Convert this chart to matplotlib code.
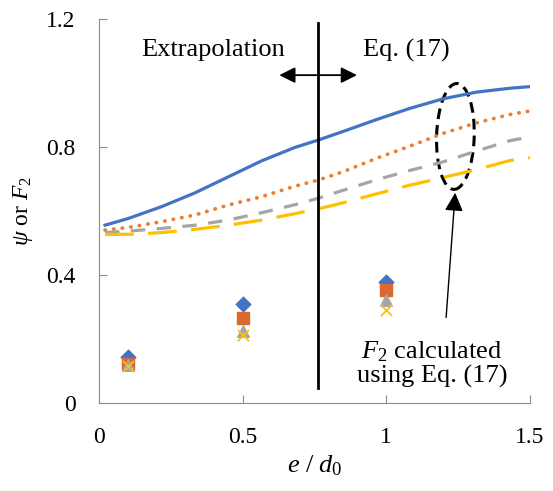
import matplotlib.pyplot as plt
from matplotlib.patches import Ellipse

plt.rcParams['font.family'] = ['Liberation Serif', 'DejaVu Serif']
plt.rcParams['mathtext.fontset'] = 'custom'
plt.rcParams['mathtext.it'] = 'Liberation Serif:italic'
plt.rcParams['mathtext.rm'] = 'Liberation Serif'

# curves
e_a = [0.021, 0.102, 0.218, 0.334, 0.45, 0.566, 0.682, 0.763, 0.850, 0.966, 1.082, 1.198, 1.315, 1.43, 1.5]
psi_1 = [0.556, 0.577, 0.614, 0.657, 0.707, 0.757, 0.799, 0.822, 0.849, 0.886, 0.921, 0.951, 0.972, 0.984, 0.989]
psi_2 = [0.541, 0.549, 0.567, 0.588, 0.619, 0.645, 0.678, 0.697, 0.723, 0.765, 0.803, 0.843, 0.876, 0.902, 0.913]

e_b = [0.021, 0.124, 0.218, 0.334, 0.45, 0.566, 0.682, 0.763, 0.850, 0.966, 1.082, 1.198, 1.315, 1.43, 1.5]
psi_3 = [0.533, 0.539, 0.546, 0.556, 0.572, 0.595, 0.620, 0.640, 0.665, 0.698, 0.727, 0.754, 0.788, 0.820, 0.832]
psi_4 = [0.527, 0.528, 0.533, 0.543, 0.556, 0.572, 0.592, 0.607, 0.626, 0.654, 0.681, 0.705, 0.730, 0.758, 0.767]

# F2 points
e_pts = [0.1, 0.5, 1.0]
f2_1 = [0.144, 0.309, 0.378]
f2_2 = [0.122, 0.265, 0.353]
f2_3 = [0.120, 0.225, 0.322]
f2_4 = [0.115, 0.214, 0.290]

blue = '#4472C4'
orange = '#ED7D31'
gray = '#A5A5A5'
yellow = '#FFC000'

fig = plt.figure(figsize=(5.53, 4.91), dpi=100)
ax = fig.add_axes([0.179, 0.179, 0.779, 0.782])

ax.plot(e_a, psi_1, color=blue, lw=2.3, ls='-')
ax.plot(e_a, psi_2, color=orange, lw=2.7, ls=(0, (0.1, 2.2)), dash_capstyle='round')
ax.plot(e_b, psi_3, color=gray, lw=2.3, ls=(0, (4.5, 3.6)))
ax.plot(e_b, psi_4, color=yellow, lw=2.3, ls=(0, (9, 4.5)))

ax.scatter(e_pts, f2_1, marker='D', s=55, color=blue, zorder=3)
ax.scatter(e_pts, f2_2, marker='s', s=70, color='#D9692E', zorder=4)
ax.scatter(e_pts, f2_3, marker='^', s=70, color=gray, zorder=5)
ax.scatter(e_pts, f2_4, marker='x', s=65, color=yellow, lw=1.3, zorder=6)

ax.axvline(0.762, ymin=0.039, ymax=0.99, color='black', lw=2)

ax.set_xlim(0, 1.5)
ax.set_ylim(0, 1.2)
ax.set_xticks([0, 0.5, 1, 1.5])
ax.set_xticklabels(['0', '0.5', '1', '1.5'])
ax.set_yticks([0, 0.4, 0.8, 1.2])
ax.set_yticklabels(['0', '0.4', '0.8', '1.2'])
ax.tick_params(direction='in', length=6, color='#8c8c8c', labelsize=17)
ax.tick_params(axis='x', pad=17)
ax.tick_params(axis='y', pad=17)
for s in ['top', 'right']:
    ax.spines[s].set_visible(False)
for s in ['left', 'bottom']:
    ax.spines[s].set_color('#8c8c8c')

ax.set_xlabel(r'$e\ /\ d_0$', fontsize=19, labelpad=4)
ax.set_ylabel(r'$\psi$ or $F_2$', fontsize=17, labelpad=8)

ax.text(0.397, 1.103, 'Extrapolation', fontsize=19, ha='center', va='center')
ax.text(1.07, 1.103, 'Eq. (17)', fontsize=19, ha='center', va='center')
ax.annotate('', xy=(0.618, 1.025), xytext=(0.908, 1.025),
            arrowprops=dict(arrowstyle='<|-|>', color='black', lw=1.3, mutation_scale=24))

ell = Ellipse((1.241, 0.8334), 0.131, 0.331, angle=-2, fill=False, ls=(0, (3.5, 2)), lw=2.2, color='black')
ax.add_patch(ell)
ax.annotate('', xy=(1.241, 0.666), xytext=(1.208, 0.259),
            arrowprops=dict(arrowstyle='-|>', color='black', lw=1, mutation_scale=28))
ax.text(1.159, 0.122, '$F_2$ calculated\nusing Eq. (17)', fontsize=19, ha='center', va='center', linespacing=1.05)

fig.savefig('out.png', dpi=100)
